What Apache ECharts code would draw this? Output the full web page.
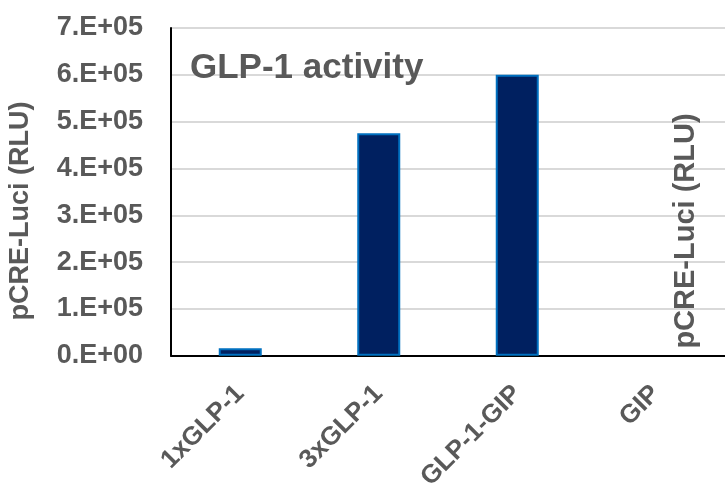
<!DOCTYPE html>
<html>
<head>
<meta charset="utf-8">
<script src="https://cdn.jsdelivr.net/npm/echarts@6/dist/echarts.min.js"></script>
<style>
  html, body { margin: 0; padding: 0; background: #fff; }
  #chart { width: 725px; height: 493px; }
</style>
</head>
<body>
<div id="chart"></div>
<script>
// Luciferase reporter signal per construct
const categories = ['1xGLP-1', '3xGLP-1', 'GLP-1-GIP', 'GIP'];
const rluValues = [16000, 475000, 600000, 0];
const yTickLabels = ['0.E+00', '1.E+05', '2.E+05', '3.E+05', '4.E+05', '5.E+05', '6.E+05', '7.E+05'];

const TEXT_GRAY = '#595959';
const FONT = 'Liberation Sans, Arial, sans-serif';

const chart = echarts.init(document.getElementById('chart'), null, { renderer: 'canvas' });

// zero-height bars get no outline so nothing sits on the axis
const barData = rluValues.map((v) => ({
  value: v,
  itemStyle: v === 0 ? { borderWidth: 0 } : {}
}));

chart.setOption({
  animation: false,
  backgroundColor: '#ffffff',
  grid: { left: 171, top: 28, width: 555, height: 329, containLabel: false },
  xAxis: {
    type: 'category',
    data: categories,
    axisLine: { show: true, onZero: false, lineStyle: { color: '#000000', width: 2 } },
    axisTick: { show: false },
    axisLabel: {
      rotate: 45,
      margin: 34,
      color: TEXT_GRAY,
      fontFamily: FONT,
      fontWeight: 'bold',
      fontSize: 26
    },
    splitLine: { show: false }
  },
  yAxis: {
    type: 'value',
    min: 0,
    max: 700000,
    interval: 100000,
    axisLine: { show: true, lineStyle: { color: '#000000', width: 2 } },
    axisTick: { show: false },
    axisLabel: {
      margin: 28,
      color: TEXT_GRAY,
      fontFamily: FONT,
      fontWeight: 'bold',
      fontSize: 27,
      formatter: (v) => yTickLabels[Math.round(v / 100000)]
    },
    splitLine: { show: true, lineStyle: { color: '#D9D9D9', width: 2 } }
  },
  series: [{
    type: 'bar',
    data: barData,
    barWidth: 43,
    itemStyle: { color: '#002060', borderColor: '#0070C0', borderWidth: 2 }
  }],
  graphic: [
    {
      type: 'text',
      left: 190,
      top: 51,
      z: 10,
      style: { text: 'GLP-1 activity', fill: TEXT_GRAY, font: 'bold 35px ' + FONT }
    },
    {
      type: 'text',
      x: 21,
      y: 211,
      rotation: Math.PI / 2,
      z: 10,
      style: {
        text: 'pCRE-Luci (RLU)', fill: TEXT_GRAY, font: 'bold 27px ' + FONT,
        align: 'center', verticalAlign: 'middle'
      }
    },
    {
      type: 'text',
      x: 686,
      y: 231,
      rotation: Math.PI / 2,
      z: 10,
      style: {
        text: 'pCRE-Luci (RLU)', fill: TEXT_GRAY, font: 'bold 29px ' + FONT,
        align: 'center', verticalAlign: 'middle'
      }
    }
  ]
});
</script>
</body>
</html>
